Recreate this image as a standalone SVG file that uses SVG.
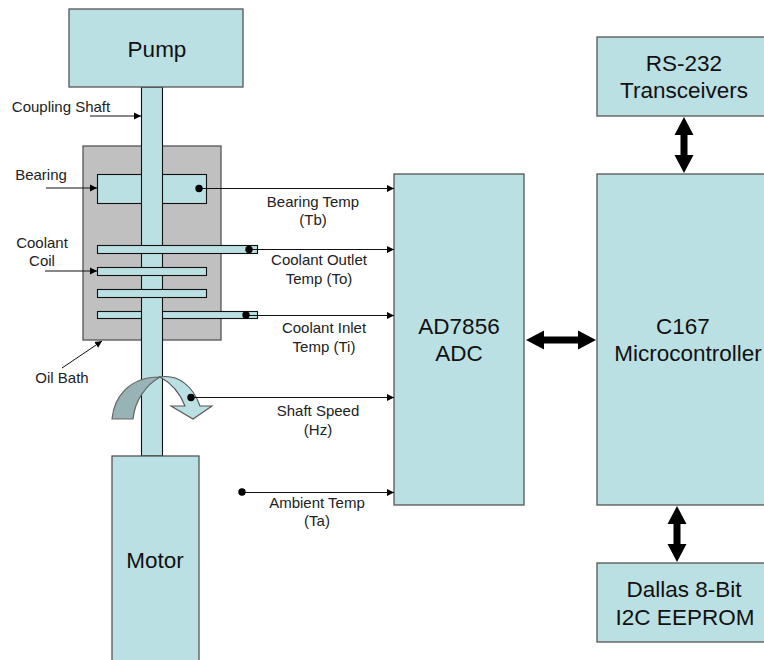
<svg xmlns="http://www.w3.org/2000/svg" width="764" height="660" viewBox="0 0 764 660">
<style>
text{font-family:"Liberation Sans",Arial,sans-serif;fill:#111;text-anchor:middle}
.b{fill:#bbe0e3;stroke:#555;stroke-width:1.3}
.p{fill:#bbe0e3;stroke:#111;stroke-width:1.1}
.big{font-size:22.500px}
.sm{font-size:15px;fill:#222}
.l{stroke:#111;stroke-width:1;fill:none}
.la{marker-end:url(#a)}
</style>
<defs>
<marker id="a" markerUnits="userSpaceOnUse" markerWidth="8" markerHeight="8" refX="7" refY="4" orient="auto"><path d="M0 0.5L7 4L0 7.5Z" fill="#000"/></marker>
</defs>
<rect width="764" height="660" fill="#fff"/>
<g id="oil-bath"><rect x="83" y="146" width="138" height="194" fill="#c0c0c0" stroke="#555" stroke-width="1.3"/></g>
<g id="bearing"><rect class="p" x="97.500" y="174.500" width="109" height="29"/></g>
<g id="coil-4"><rect class="p" x="97.500" y="311.500" width="160" height="7"/></g>
<g id="shaft"><rect class="p" x="141.500" y="87" width="21" height="369"/></g>
<g id="coil-1"><rect class="p" x="97.500" y="245.500" width="160" height="8"/></g>
<g id="coil-2"><rect class="p" x="97.500" y="267.500" width="109" height="8"/></g>
<g id="coil-3"><rect class="p" x="97.500" y="289.500" width="109" height="8"/></g>
<g id="rotation">
<path d="M112 419C114 398 128 377 160 377C146 385 135 400 133 419Z" fill="#97b3b6" stroke="#666" stroke-width="1.2"/>
<path d="M160 377C178 374 193 386 200 406H212L193 419L171 406H185C180 393 171 383 160 377Z" fill="#bbe0e3" stroke="#555" stroke-width="1.1"/>
</g>
<g id="pump"><rect class="b" x="69" y="9" width="174" height="78"/><text class="big" x="157" y="57">Pump</text></g>
<g id="motor"><rect class="b" x="112" y="456" width="87" height="205"/><text class="big" x="155" y="568">Motor</text></g>
<g id="adc"><rect class="b" x="394" y="174" width="130" height="331"/><text class="big" x="459" y="334">AD7856</text><text class="big" x="459" y="361">ADC</text></g>
<g id="mcu"><rect class="b" x="597" y="174" width="172" height="331"/><text class="big" x="683" y="334">C167</text><text class="big" x="688" y="361">Microcontroller</text></g>
<g id="rs232"><rect class="b" x="597" y="37" width="172" height="79"/><text class="big" x="684" y="71">RS-232</text><text class="big" x="684" y="98">Transceivers</text></g>
<g id="eeprom"><rect class="b" x="597" y="563" width="172" height="79"/><text class="big" x="684" y="597">Dallas 8-Bit</text><text class="big" x="685" y="625">I2C EEPROM</text></g>
<g id="connectors">
<path class="l la" d="M90 116H141"/>
<path class="l la" d="M46 188H97"/>
<path class="l la" d="M45 271H97"/>
<path class="l la" d="M62 368L102 341"/>
<path class="l la" d="M199 188.500H394"/>
<path class="l la" d="M249 249.500H394"/>
<path class="l la" d="M246 315.500H394"/>
<path class="l la" d="M191 397.500H394"/>
<path class="l la" d="M242 492.500H394"/>
<path d="M526 340L544 330.500V336.500H578V330.500L596 340L578 349.500V343.500H544V349.500Z" fill="#000"/>
<path d="M684 117L693.500 135H687.500V155H693.500L684 173L674.500 155H680.500V135H674.500Z" fill="#000"/>
<path d="M677 506L686.500 524H680.500V544H686.500L677 562L667.500 544H673.500V524H667.500Z" fill="#000"/>
<circle cx="199" cy="188.500" r="3.700"/>
<circle cx="249" cy="249.500" r="3.700"/>
<circle cx="246" cy="315" r="3.700"/>
<circle cx="191" cy="397.500" r="3.700"/>
<circle cx="242" cy="492" r="3.700"/>
</g>
<g id="labels">
<text class="sm" x="61" y="112">Coupling Shaft</text>
<text class="sm" x="41" y="180">Bearing</text>
<text class="sm" x="42" y="248">Coolant</text>
<text class="sm" x="42" y="266">Coil</text>
<text class="sm" x="62" y="383">Oil Bath</text>
<text class="sm" x="313" y="207">Bearing Temp</text>
<text class="sm" x="313" y="225">(Tb)</text>
<text class="sm" x="319" y="265">Coolant Outlet</text>
<text class="sm" x="319" y="284">Temp (To)</text>
<text class="sm" x="324" y="333">Coolant Inlet</text>
<text class="sm" x="324" y="352">Temp (Ti)</text>
<text class="sm" x="318" y="416">Shaft Speed</text>
<text class="sm" x="318" y="435">(Hz)</text>
<text class="sm" x="317" y="508">Ambient Temp</text>
<text class="sm" x="317" y="526">(Ta)</text>
</g>
</svg>
